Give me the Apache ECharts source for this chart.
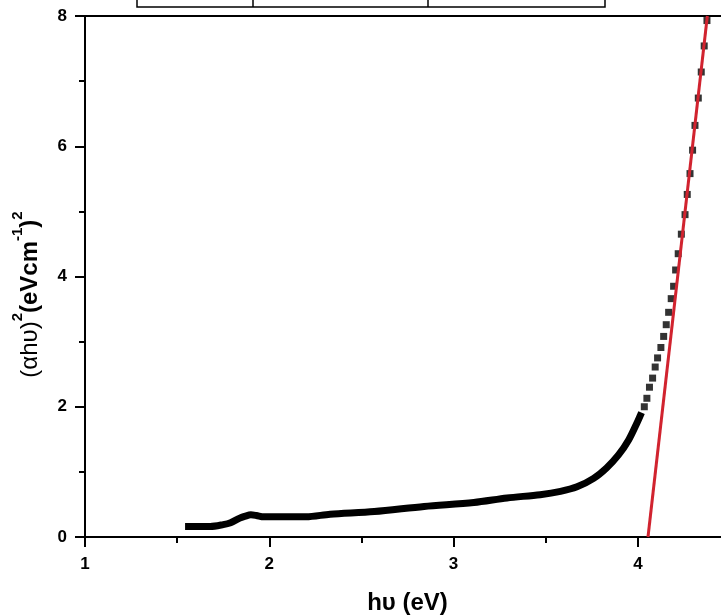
<!DOCTYPE html>
<html>
<head>
<meta charset="utf-8">
<script src="https://cdn.jsdelivr.net/npm/echarts@6/dist/echarts.min.js"></script>
<style>
html,body{margin:0;padding:0;background:#fff;}
#chart{width:721px;height:615px;}
</style>
</head>
<body>
<div id="chart"></div>
<script>
// Dense part of the measured curve (photon energy eV, (αhυ)^2)
const denseX = [1.543, 1.60, 1.68, 1.75, 1.79, 1.84, 1.87, 1.90, 1.93, 1.97, 2.10, 2.20, 2.33, 2.57, 2.84, 3.11, 3.29, 3.47, 3.58, 3.67, 3.76, 3.83, 3.895, 3.95, 3.995, 4.02];
const denseY = [0.16, 0.16, 0.16, 0.19, 0.22, 0.29, 0.32, 0.34, 0.33, 0.31, 0.31, 0.31, 0.35, 0.39, 0.47, 0.53, 0.60, 0.65, 0.70, 0.77, 0.90, 1.06, 1.26, 1.49, 1.75, 1.91];
// Steep part, individually visible points
const steepX = [4.035, 4.049, 4.063, 4.080, 4.094, 4.107, 4.125, 4.140, 4.154, 4.167, 4.181, 4.194, 4.205, 4.219, 4.236, 4.256, 4.268, 4.283, 4.297, 4.310, 4.328, 4.344, 4.360, 4.375];
const steepY = [2.00, 2.13, 2.30, 2.44, 2.61, 2.75, 2.91, 3.08, 3.26, 3.45, 3.66, 3.85, 4.10, 4.35, 4.65, 4.95, 5.26, 5.58, 5.94, 6.32, 6.74, 7.14, 7.54, 7.93];
// Linear fit (Tauc extrapolation)
const fitX = [4.055, 4.377];
const fitY = [0, 8];
// Axes
const xTicks = [1, 2, 3, 4];
const yTicks = [0, 2, 4, 6, 8];

const zip = (a, b) => a.map((v, i) => [v, b[i]]);
const FONT = '"Liberation Sans", Arial, sans-serif';

const chart = echarts.init(document.getElementById('chart'));
chart.setOption({
  animation: false,
  backgroundColor: '#fff',
  grid: { left: 85, top: 16, width: 645, height: 521, containLabel: false, outerBoundsMode: 'none' },
  xAxis: [{
    type: 'value', min: 1, max: 4.5, interval: 1,
    axisLine: { show: true, onZero: false, lineStyle: { color: '#000', width: 2 } },
    axisTick: { show: true, length: 10, lineStyle: { color: '#000', width: 2 } },
    minorTick: { show: true, splitNumber: 2, length: 6, lineStyle: { color: '#000', width: 2 } },
    splitLine: { show: false },
    axisLabel: { margin: 19, fontFamily: FONT, fontWeight: 'bold', fontSize: 17, color: '#000',
      formatter: v => xTicks.includes(v) ? String(v) : '' },
    name: 'hυ (eV)', nameLocation: 'middle', nameGap: 54,
    nameTextStyle: { fontFamily: FONT, fontWeight: 'bold', fontSize: 24, color: '#000' }
  }, {
    type: 'value', position: 'top', min: 1, max: 4.5,
    axisLine: { show: true, onZero: false, lineStyle: { color: '#000', width: 2 } },
    axisTick: { show: false }, axisLabel: { show: false }, splitLine: { show: false }
  }],
  yAxis: [{
    type: 'value', min: 0, max: 8, interval: 2,
    axisLine: { show: true, onZero: false, lineStyle: { color: '#000', width: 2 } },
    axisTick: { show: true, length: 10, lineStyle: { color: '#000', width: 2 } },
    minorTick: { show: true, splitNumber: 2, length: 6, lineStyle: { color: '#000', width: 2 } },
    splitLine: { show: false },
    axisLabel: { margin: 18, fontFamily: FONT, fontWeight: 'bold', fontSize: 17, color: '#000',
      formatter: v => yTicks.includes(v) ? String(v) : '' },
    name: '{a|(αhυ)}{s|2}{b|(eVcm}{s|-1}{b|)}{s|2}',
    nameLocation: 'middle', nameRotate: 90, nameGap: 43,
    nameTextStyle: {
      color: '#000', padding: [0, 36, 0, 0],
      rich: {
        a: { fontFamily: FONT, fontSize: 24, fontWeight: 'normal', color: '#000', lineHeight: 32, verticalAlign: 'bottom' },
        b: { fontFamily: FONT, fontSize: 24, fontWeight: 'bold', color: '#000', lineHeight: 32, verticalAlign: 'bottom' },
        s: { fontFamily: FONT, fontSize: 15, fontWeight: 'bold', color: '#000', lineHeight: 32, verticalAlign: 'top' }
      }
    }
  }],
  series: [{
    type: 'line', data: zip(denseX, denseY), showSymbol: false, smooth: 0.3,
    lineStyle: { color: '#000', width: 7, cap: 'butt' }, z: 2
  }, {
    type: 'scatter', data: zip(steepX, steepY), symbol: 'rect', symbolSize: [7, 7],
    itemStyle: { color: '#000' }, z: 2
  }, {
    type: 'line', data: zip(fitX, fitY), showSymbol: false,
    lineStyle: { color: '#d1232f', width: 3 }, z: 3
  }],
  graphic: [
    { type: 'polyline', shape: { points: [[137, 0], [137, 7], [605, 7], [605, 0]] }, style: { stroke: '#000', lineWidth: 1.5, fill: null } },
    { type: 'line', shape: { x1: 253, y1: 0, x2: 253, y2: 7 }, style: { stroke: '#000', lineWidth: 1.5 } },
    { type: 'line', shape: { x1: 428, y1: 0, x2: 428, y2: 7 }, style: { stroke: '#000', lineWidth: 1.5 } }
  ]
});
</script>
</body>
</html>
